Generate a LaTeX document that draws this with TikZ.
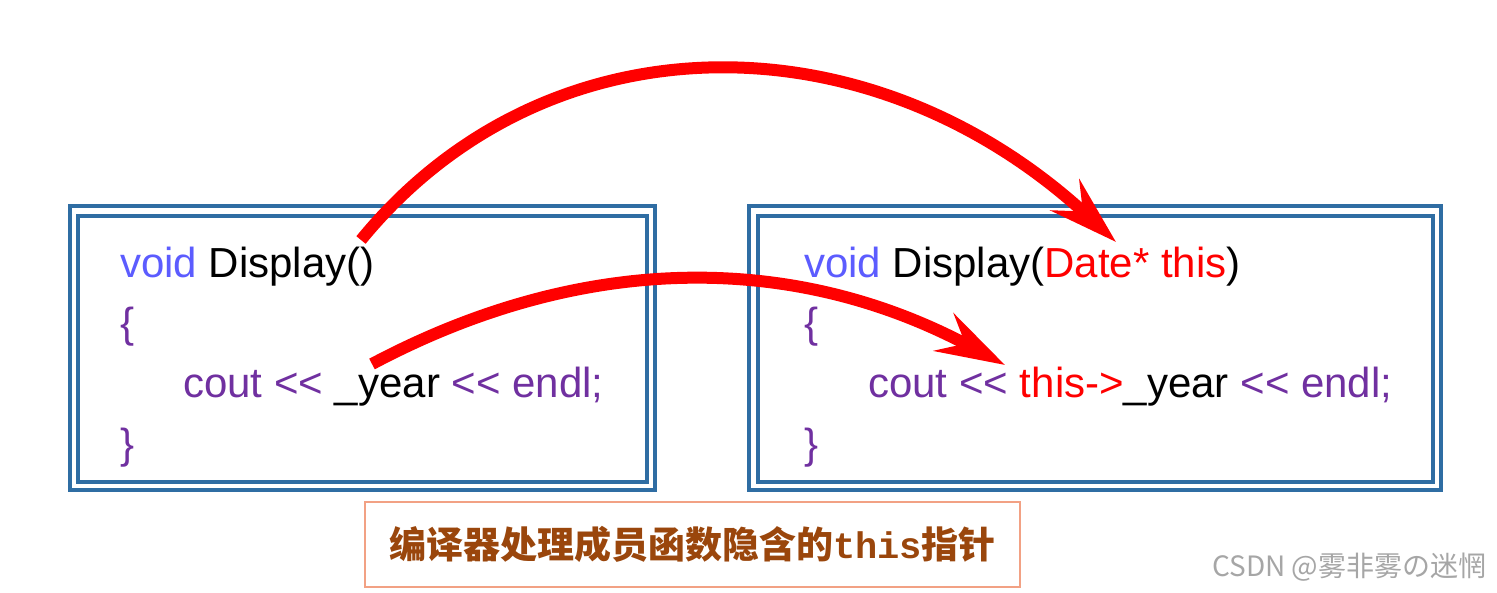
\documentclass[tikz,border=0pt]{standalone}
\usepackage{fontspec}
\setmainfont{Liberation Sans}
\newfontfamily\cjk{Noto Sans CJK SC}
\newfontfamily\monob{Liberation Mono}
\usetikzlibrary{arrows.meta}
\definecolor{boxblue}{HTML}{2F6DA3}
\definecolor{kwblue}{HTML}{5C5CFF}
\definecolor{kwpurple}{HTML}{7030A0}
\definecolor{capbrown}{HTML}{9A460C}
\definecolor{capborder}{HTML}{F2A184}
\definecolor{arrred}{HTML}{FF0000}
\newcommand{\shl}{<{}<}
\begin{document}
\begin{tikzpicture}[x=1pt,y=-1pt,
  frame/.style={draw=boxblue,line width=3.5pt},
  codeline/.style={anchor=base west,inner sep=0pt,font=\fontsize{42}{50}\selectfont},
  bigarrow/.style={draw=arrred,line width=12pt,-{Stealth[length=69pt,width=42pt,inset=24pt]}},
]
\useasboundingbox (0,0) rectangle (1497,593);
% left box
\draw[frame] (70,206) rectangle (655,490);
\draw[frame] (78,216) rectangle (647,482);
% right box
\draw[frame] (749,206) rectangle (1441,490);
\draw[frame] (758,216) rectangle (1433,482);
% left code
\node[codeline] (l1) at (120,278) {\textcolor{kwblue}{void} Display()};
\node[codeline] (l2) at (120,338) {\textcolor{kwpurple}{\{}};
\node[codeline] (l3) at (183,398) {\textcolor{kwpurple}{cout \shl} \_year \textcolor{kwpurple}{\shl{} endl;}};
\node[codeline] (l4) at (120,458) {\textcolor{kwpurple}{\}}};
% right code
\node[codeline] (r1) at (804,278) {\textcolor{kwblue}{void} Display(\textcolor{arrred}{Date* this})};
\node[codeline] (r2) at (804,338) {\textcolor{kwpurple}{\{}};
\node[codeline] (r3) at (868,398) {\textcolor{kwpurple}{cout \shl} \textcolor{arrred}{this->}\_year \textcolor{kwpurple}{\shl{} endl;}};
\node[codeline] (r4) at (804,458) {\textcolor{kwpurple}{\}}};
% caption
\node[draw=capborder,line width=2pt,minimum width=655pt,minimum height=85pt,inner sep=0pt,
      text=capbrown,font=\fontsize{37}{44}\selectfont] (cap) at (692.5,544.5)
  {{\cjk\bfseries 编译器处理成员函数隐含的}{\monob\bfseries this}{\cjk\bfseries 指针}};
% watermark
\node[anchor=west,inner sep=0pt,text=black!35,font=\cjk\fontsize{28}{33}\selectfont] (wm) at (1212,567) {CSDN @雾非雾の迷惘};
% arrows
\coordinate (a1s) at (361,240);
\coordinate (a1e) at (1116,242);
\coordinate (a2s) at (372,364);
\coordinate (a2e) at (1005,365);
\draw[bigarrow] (a1s) .. controls (546,14) and (869,14) .. (a1e);
\draw[bigarrow] (a2s) .. controls (583,252) and (794,252) .. (a2e);
\end{tikzpicture}
\end{document}
